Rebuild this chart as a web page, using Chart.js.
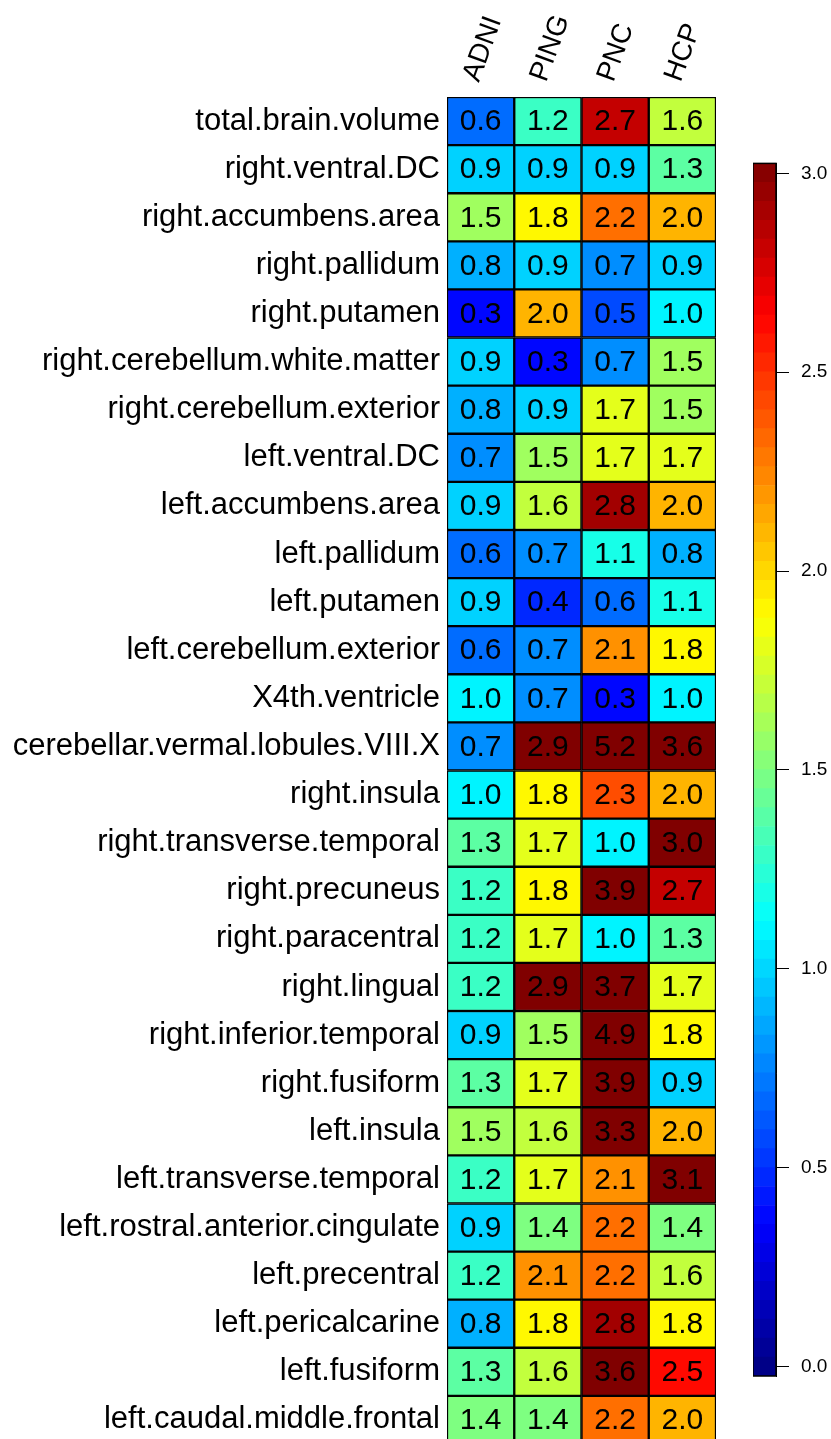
<!DOCTYPE html>
<html>
<head>
<meta charset="utf-8">
<script src="https://cdn.jsdelivr.net/npm/chart.js@4.4.0/dist/chart.umd.min.js"></script>
<style>
html, body { margin:0; padding:0; background:#fff; width:831px; height:1439px; overflow:hidden; }
#heat { position:absolute; left:0; top:0; }
#bar { position:absolute; left:753px; top:140px; }
</style>
</head>
<body>
<canvas id="heat" width="831" height="1470"></canvas>
<canvas id="bar" width="78" height="1260"></canvas>
<script>
const regions = [
  'total.brain.volume', 'right.ventral.DC', 'right.accumbens.area', 'right.pallidum',
  'right.putamen', 'right.cerebellum.white.matter', 'right.cerebellum.exterior', 'left.ventral.DC',
  'left.accumbens.area', 'left.pallidum', 'left.putamen', 'left.cerebellum.exterior',
  'X4th.ventricle', 'cerebellar.vermal.lobules.VIII.X', 'right.insula', 'right.transverse.temporal',
  'right.precuneus', 'right.paracentral', 'right.lingual', 'right.inferior.temporal',
  'right.fusiform', 'left.insula', 'left.transverse.temporal', 'left.rostral.anterior.cingulate',
  'left.precentral', 'left.pericalcarine', 'left.fusiform', 'left.caudal.middle.frontal'
];
const studies = ['ADNI', 'PING', 'PNC', 'HCP'];

const adni = [0.6, 0.9, 1.5, 0.8, 0.3, 0.9, 0.8, 0.7, 0.9, 0.6, 0.9, 0.6, 1.0, 0.7,
              1.0, 1.3, 1.2, 1.2, 1.2, 0.9, 1.3, 1.5, 1.2, 0.9, 1.2, 0.8, 1.3, 1.4];
const ping = [1.2, 0.9, 1.8, 0.9, 2.0, 0.3, 0.9, 1.5, 1.6, 0.7, 0.4, 0.7, 0.7, 2.9,
              1.8, 1.7, 1.8, 1.7, 2.9, 1.5, 1.7, 1.6, 1.7, 1.4, 2.1, 1.8, 1.6, 1.4];
const pnc  = [2.7, 0.9, 2.2, 0.7, 0.5, 0.7, 1.7, 1.7, 2.8, 1.1, 0.6, 2.1, 0.3, 5.2,
              2.3, 1.0, 3.9, 1.0, 3.7, 4.9, 3.9, 3.3, 2.1, 2.2, 2.2, 2.8, 3.6, 2.2];
const hcp  = [1.6, 1.3, 2.0, 0.9, 1.0, 1.5, 1.5, 1.7, 2.0, 0.8, 1.1, 1.8, 1.0, 3.6,
              2.0, 3.0, 2.7, 1.3, 1.7, 1.8, 0.9, 2.0, 3.1, 1.4, 1.6, 1.8, 2.5, 2.0];
const columns = [adni, ping, pnc, hcp];

const barTicks = [0, 0.5, 1, 1.5, 2, 2.5, 3];
const barRange = [-0.024, 3.025];
const barLevels = 64;
const cellRange = [-0.09, 2.9];

const FONT = '"Liberation Sans", Arial, Helvetica, sans-serif';

function clamp(v) { return Math.max(0, Math.min(1, v)); }
function jet(t) {
  t = clamp(t);
  const r = clamp(1.5 - Math.abs(4 * t - 3));
  const g = clamp(1.5 - Math.abs(4 * t - 2));
  const b = clamp(1.5 - Math.abs(4 * t - 1));
  return `rgb(${Math.round(r * 255)},${Math.round(g * 255)},${Math.round(b * 255)})`;
}
function cellColor(v) {
  return jet((v - cellRange[0]) / (cellRange[1] - cellRange[0]));
}

// numbers inside the cells + slanted study names on top
const cellText = {
  id: 'cellText',
  afterDatasetsDraw(chart) {
    const ctx = chart.ctx;
    ctx.save();
    ctx.font = '30px ' + FONT;
    ctx.fillStyle = '#000';
    ctx.textAlign = 'center';
    ctx.textBaseline = 'middle';
    chart.data.datasets.forEach((ds, di) => {
      chart.getDatasetMeta(di).data.forEach((el, i) => {
        ctx.fillText(ds.values[i].toFixed(1), (el.x + el.base) / 2, el.y + 1);
      });
    });
    // column names
    ctx.font = '28px ' + FONT;
    ctx.textAlign = 'left';
    ctx.textBaseline = 'alphabetic';
    studies.forEach((s, i) => {
      const cx = chart.scales.x.getPixelForValue(i + 0.5);
      ctx.save();
      ctx.translate(cx - 2, chart.chartArea.top - 14);
      ctx.rotate(-70 * Math.PI / 180);
      ctx.fillText(s, 0, 0);
      ctx.restore();
    });
    ctx.restore();
  }
};

new Chart(document.getElementById('heat'), {
  type: 'bar',
  data: {
    labels: regions,
    datasets: columns.map((col, ci) => ({
      label: studies[ci],
      values: col,
      data: col.map(() => 1),
      backgroundColor: col.map(cellColor),
      borderColor: '#000',
      borderWidth: 1.5,
      borderSkipped: false,
      categoryPercentage: 1,
      barPercentage: 1
    }))
  },
  options: {
    indexAxis: 'y',
    responsive: false,
    animation: false,
    layout: { padding: { left: 0, right: 115, top: 97, bottom: 26 } },
    plugins: { legend: { display: false }, tooltip: { enabled: false } },
    scales: {
      x: {
        type: 'linear',
        stacked: true,
        min: 0,
        max: 4,
        display: false
      },
      y: {
        stacked: true,
        grid: { display: false, drawTicks: false },
        border: { display: false },
        afterFit: s => { s.width = 447; s.paddingTop = 0; s.paddingBottom = 0; },
        ticks: {
          autoSkip: false,
          padding: 7,
          color: '#000',
          font: { size: 31, family: FONT }
        }
      }
    }
  },
  plugins: [cellText]
});

// colour key
const step = (barRange[1] - barRange[0]) / barLevels;
const barSets = [];
for (let k = 0; k < barLevels; k++) {
  barSets.push({
    data: [[barRange[0] + k * step, barRange[0] + (k + 1) * step]],
    backgroundColor: jet((k + 0.5) / barLevels),
    borderWidth: 0,
    grouped: false,
    categoryPercentage: 1,
    barPercentage: 1
  });
}

const frame = {
  id: 'frame',
  afterDatasetsDraw(chart) {
    const a = chart.chartArea, ctx = chart.ctx;
    ctx.save();
    ctx.strokeStyle = '#000';
    ctx.lineWidth = 1.5;
    ctx.strokeRect(a.left, a.top, a.right - a.left, a.bottom - a.top);
    ctx.restore();
  }
};

new Chart(document.getElementById('bar'), {
  type: 'bar',
  data: { labels: [''], datasets: barSets },
  options: {
    responsive: false,
    animation: false,
    layout: { padding: { left: 0, right: 0, top: 23, bottom: 24 } },
    plugins: { legend: { display: false }, tooltip: { enabled: false } },
    scales: {
      x: { display: false },
      y: {
        position: 'right',
        min: barRange[0],
        max: barRange[1],
        afterBuildTicks: s => { s.ticks = barTicks.map(v => ({ value: v })); },
        afterFit: s => { s.width = 55; },
        grid: { drawOnChartArea: false, drawTicks: true, tickLength: 13, color: '#000' },
        border: { display: true, color: '#000' },
        ticks: {
          padding: 12,
          color: '#000',
          font: { size: 19, family: FONT },
          callback: v => v.toFixed(1)
        }
      }
    }
  },
  plugins: [frame]
});
</script>
</body>
</html>
